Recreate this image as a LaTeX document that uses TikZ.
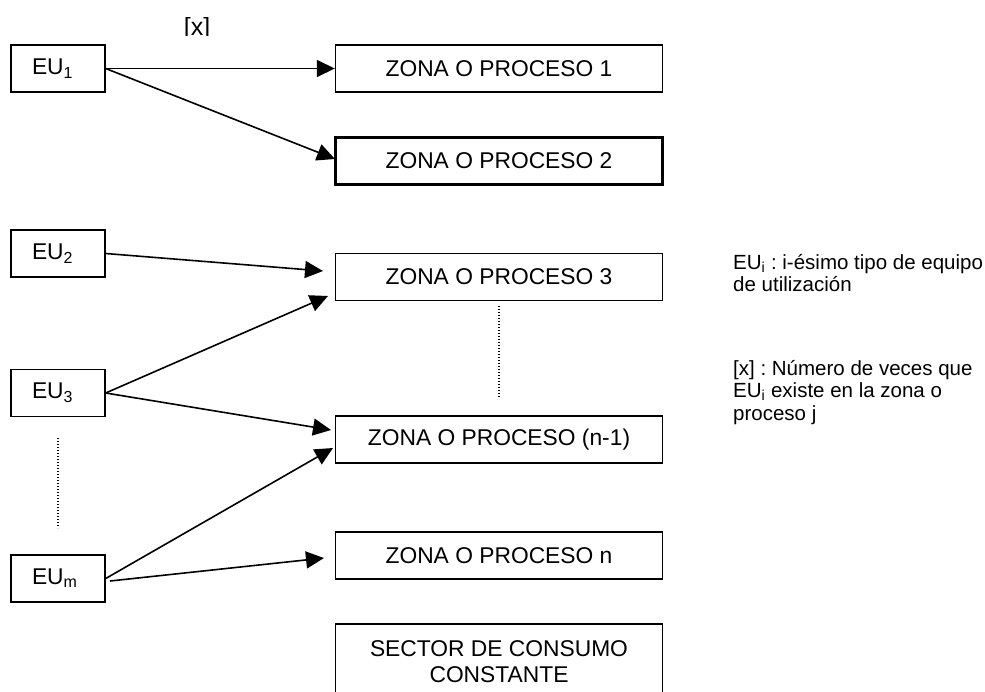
\documentclass[tikz,border=0pt]{standalone}
\usepackage{fontspec}
\setmainfont{Liberation Sans}
\usetikzlibrary{arrows.meta}
\frenchspacing

\begin{document}
\begin{tikzpicture}[x=1pt, y=-1pt]
  \tikzset{
    eubox/.style={draw, line width=1.4pt, minimum height=47pt, text width=52pt,
                  inner xsep=21pt, inner ysep=0pt, align=left,
                  font=\fontsize{22.8}{26}\selectfont},
    zonebox/.style={draw, line width=1.4pt, minimum width=327pt, minimum height=47pt,
                    inner sep=0pt, align=center, font=\fontsize{22.8}{26}\selectfont},
    link/.style={line width=1.6pt, -{Triangle[length=18pt,width=17pt]}},
    dots/.style={line width=1.1pt, dash pattern=on 1pt off 2pt},
    legend/.style={anchor=base west, inner sep=0pt, align=left,
                   font=\fontsize{20.5}{22.5}\selectfont}
  }
  \useasboundingbox (0,0) rectangle (985,691);
  \clip (0,0) rectangle (985,691);

  % equipos de utilizacion
  \node[eubox] (eu1) at (58,68.5)  {EU\textsubscript{1}};
  \node[eubox] (eu2) at (58,253.5) {EU\textsubscript{2}};
  \node[eubox] (eu3) at (58,393)   {EU\textsubscript{3}};
  \node[eubox] (eum) at (58,578.5) {EU\textsubscript{m}};

  % zonas o procesos
  \node[zonebox] (z1) at (499,68.5)  {ZONA O PROCESO 1};
  \node[zonebox, line width=2.2pt] (z2) at (499,161) {ZONA O PROCESO 2};
  \node[zonebox] (z3) at (499,277)   {ZONA O PROCESO 3};
  \node[zonebox] (zn1) at (499,439.5) {ZONA O PROCESO (n-1)};
  \node[zonebox] (zn) at (499,555.5)  {ZONA O PROCESO n};
  \node[zonebox, minimum height=76pt, font=\fontsize{22.8}{26}\selectfont] (sc) at (499,662)
       {SECTOR DE CONSUMO\\CONSTANTE};

  \begin{scope}
    \clip (150,17) rectangle (240,35.8);
    \node[inner sep=0pt, anchor=base, font=\fontsize{25}{30}\selectfont] (cnt) at (197,35.5) {[x]};
  \end{scope}

  \coordinate (t2)  at (335,159);
  \coordinate (t3a) at (323,271);
  \coordinate (t3b) at (328,296);
  \coordinate (t4a) at (331,430);
  \coordinate (t4b) at (333,448);
  \coordinate (t5)  at (324,558);
  \coordinate (sm)  at (110,581);

  \draw[link] (eu1.east) -- (z1.west);
  \draw[link] (eu1.east) -- (t2);
  \draw[link] (eu2.east) -- (t3a);
  \draw[link] (eu3.east) -- (t3b);
  \draw[link] (eu3.east) -- (t4a);
  \draw[link] (eum.east) -- (t4b);
  \draw[link] (sm) -- (t5);

  \draw[dots] (58,438) -- (58,528);
  \draw[dots] (499,306) -- (499,397);

  \node[legend] (leg1) at (733,291.5) {EU\textsubscript{i} : i-ésimo tipo de equipo\\de utilización};
  \node[legend] (leg2) at (733,420) {[x] : Número de veces que\\EU\textsubscript{i} existe en la zona o\\proceso j};
\end{tikzpicture}
\end{document}
